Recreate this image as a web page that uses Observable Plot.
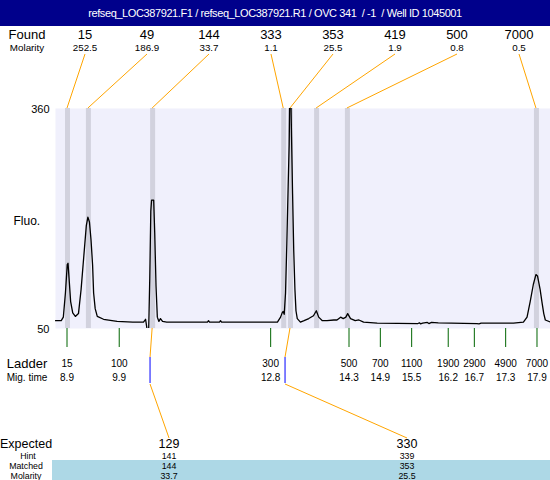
<!DOCTYPE html>
<html><head><meta charset="utf-8">
<script src="https://cdn.jsdelivr.net/npm/d3@7"></script>
<script src="https://cdn.jsdelivr.net/npm/@observablehq/plot@0.6"></script>
<style>
body{margin:0;background:#fff;font-family:"Liberation Sans",Arial,sans-serif;}
#title{width:550px;height:26px;background:#00008b;color:#fff;font-size:11px;letter-spacing:-0.4px;line-height:27px;text-align:center;white-space:pre;}
#chart svg{display:block;}
</style></head><body>
<div id="title">refseq_LOC387921.F1 / refseq_LOC387921.R1 / OVC 341  / -1  / Well ID 1045001</div>
<div id="chart"></div>
<script>
// ---------- data ----------
const foundSizes = ["15","49","144","333","353","419","500","7000"];
const foundMolarity = ["252.5","186.9","33.7","1.1","25.5","1.9","0.8","0.5"];
const foundTimes = [8.90, 9.30, 10.53, 13.04, 13.17, 13.67, 14.26, 17.88];

const ladderSizes = ["15","100","300","500","700","1100","1900","2900","4900","7000"];
const ladderTimes = [8.9, 9.9, 12.8, 14.3, 14.9, 15.5, 16.2, 16.7, 17.3, 17.9];

const expectedSizes = ["129","330"];
const hintSizes = ["141","339"];
const matchedSizes = ["144","353"];
const matchedMolarity = ["33.7","25.5"];
const expectedTimes = [10.49, 13.075];
const matchedTimes = [10.53, 13.17];

const yTicks = [50, 360];

const traceTime = [8.670,8.780,8.820,8.860,8.895,8.910,8.935,8.960,9.000,9.050,9.110,9.160,9.210,9.260,9.290,9.320,9.350,9.380,9.400,9.430,9.470,9.590,9.850,10.150,10.355,10.395,10.425,10.455,10.475,10.495,10.510,10.550,10.570,10.595,10.620,10.650,10.680,10.720,10.800,11.580,11.600,11.620,11.810,11.830,11.850,12.600,12.920,12.980,13.010,13.030,13.050,13.075,13.100,13.125,13.145,13.160,13.172,13.190,13.210,13.232,13.255,13.275,13.300,13.360,13.430,13.520,13.610,13.665,13.710,13.780,13.870,14.000,14.060,14.130,14.180,14.230,14.265,14.320,14.410,14.480,14.570,14.830,15.610,15.640,15.660,15.700,15.790,15.820,15.870,16.000,16.740,16.780,16.820,17.440,17.630,17.700,17.760,17.820,17.870,17.900,17.950,17.990,18.020,18.050,18.149];
const traceFluo = [61,61,66,100,140,142,115,88,72,67,71,105,150,195,207,200,175,140,100,78,67,63,60,59,59,63,48,50,120,215,231,231,185,110,66,60,64,60,59,59,61,59,59,61,59,59,59,66,72,74,70,100,170,250,310,400,400,320,240,160,105,75,64,59,61,64,68,75,66,61,61,62,62,66,64,66,71,64,61,62,59,57.5,57,58,56.5,57.5,58.5,57,58.5,58,57,56.5,57.5,57.5,59,66,88,112,126,124,105,85,71,62,59];

const trace = traceTime.map((t, i) => ({t, f: traceFluo[i]}));

// ---------- layout ----------
const FONT = "Liberation Sans, Arial, sans-serif";
const W = 550, H = 454, mTop = 82, mBottom = 152, mLeft = 55;
const plotBottom = H - mBottom;
const slotStart = 85, slotStep = 62;   // header label slots
const tableCols = [169, 407];          // expected table columns

const plot = Plot.plot({
  width: W, height: H,
  marginLeft: mLeft, marginRight: 0, marginTop: mTop, marginBottom: mBottom,
  style: {background: "transparent", fontFamily: FONT, overflow: "visible", color: "black"},
  x: {domain: [8.67, 18.149], axis: null},
  y: {domain: [50, 360], axis: null},
  marks: [
    Plot.frame({fill: "#f0f0fc", stroke: null}),
    Plot.ruleX(foundTimes, {x: d => d, stroke: "#d2d2de", strokeWidth: 5}),
    Plot.line(trace, {x: "t", y: "f", stroke: "black", strokeWidth: 1.3, clip: true}),
    Plot.text(yTicks, {y: d => d, text: d => String(d), frameAnchor: "left", textAnchor: "end", dx: -6, dy: 1, fontSize: 11, fill: "black"}),
    Plot.text(["Fluo."], {frameAnchor: "left", textAnchor: "start", dx: -42, dy: 3, fontSize: 12, fill: "black"})
  ]
});
document.getElementById("chart").appendChild(plot);

// ---------- annotations in the margins ----------
const svg = d3.select(plot);
const xs = t => plot.scale("x").apply(t);
const g = svg.append("g").attr("font-family", FONT);
function txt(x, y, s, size, anchor = "middle") {
  g.append("text").attr("x", x).attr("y", y).attr("font-size", size)
    .attr("text-anchor", anchor).attr("fill", "black").text(s);
}
function line(x1, y1, x2, y2, color) {
  g.append("line").attr("x1", x1).attr("y1", y1).attr("x2", x2).attr("y2", y2)
    .attr("stroke", color).attr("stroke-width", 1);
}

// header: found peaks
txt(27, 13, "Found", 13);
txt(27, 24.5, "Molarity", 9.8);
foundSizes.forEach((s, i) => {
  const sx = slotStart + slotStep * i;
  txt(sx, 13, s, 13);
  txt(sx, 24.5, foundMolarity[i], 9.8);
  line(sx, 28, xs(foundTimes[i]), mTop, "#ffa500");
});

// ladder
txt(27, 342, "Ladder", 13);
txt(27, 354.5, "Mig. time", 10);
ladderTimes.forEach((t, i) => {
  const x = xs(t);
  line(x, plotBottom, x, plotBottom + 19, "#006400");
  txt(x, 341, ladderSizes[i], 10);
  txt(x, 354.5, String(t.toFixed(1)), 10);
});

// expected / matched connectors
expectedTimes.forEach((t, i) => {
  const xe = xs(t), xm = xs(matchedTimes[i]);
  line(xm, plotBottom, xe, 331, "#ffa500");
  line(xe, 331, xe, 357, "#0000ff");
  line(xe, 358, tableCols[i], 412, "#ffa500");
});

// bottom table
g.append("rect").attr("x", 52).attr("y", 434).attr("width", W - 52).attr("height", 20).attr("fill", "#add8e6");
txt(0, 421.5, "Expected", 12.5, "start");
txt(28, 432.5, "Hint", 8.8);
txt(26, 442.5, "Matched", 8.8);
txt(26, 452.5, "Molarity", 8.8);
tableCols.forEach((cx, i) => {
  txt(cx, 421.5, expectedSizes[i], 12.5);
  txt(cx, 432.5, hintSizes[i], 8.8);
  txt(cx, 442.5, matchedSizes[i], 8.8);
  txt(cx, 452.5, matchedMolarity[i], 8.8);
});
</script>
</body></html>
